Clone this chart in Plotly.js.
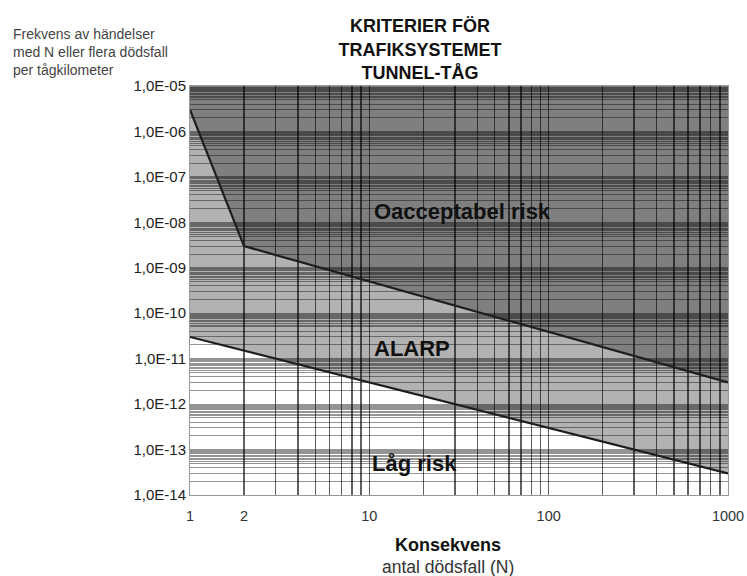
<!DOCTYPE html>
<html>
<head>
<meta charset="utf-8">
<script src="https://cdn.plot.ly/plotly-3.0.1.min.js"></script>
<style>html,body{margin:0;padding:0;background:#fff;}#chart{width:747px;height:576px;}</style>
</head>
<body>
<div id="chart"></div>
<script>
// ---- data ----
const nUpper = [1, 2, 1000];            // N (antal dödsfall)
const upperLimit = [3e-6, 3e-9, 3e-12]; // boundary Oacceptabel / ALARP
const nLower = [1, 1000];
const lowerLimit = [3e-11, 3e-14];      // boundary ALARP / Låg risk
const nTop = [1, 1000];
const topEdge = [1e-5, 1e-5];           // top of chart (fill limit)

const xTickVals = [1, 2, 10, 100, 1000];
const xTickText = ['1', '2', '10', '100', '1000'];
const yTickVals = [1e-5, 1e-6, 1e-7, 1e-8, 1e-9, 1e-10, 1e-11, 1e-12, 1e-13, 1e-14];
const yTickText = ['1,0E-05', '1,0E-06', '1,0E-07', '1,0E-08', '1,0E-09',
                   '1,0E-10', '1,0E-11', '1,0E-12', '1,0E-13', '1,0E-14'];
const xMinorMantissas = [3, 4, 5, 6, 7, 8, 9];
const yMinorMantissas = [2, 3, 4, 5, 5.5, 6, 6.5, 7, 7.5, 8, 8.5, 9, 9.5];
const regionLabels = ['Oacceptabel risk', 'ALARP', 'Låg risk'];

// minor grid positions
const xMinor = [20, 200];
[1, 10, 100].forEach(d => xMinorMantissas.forEach(m => xMinor.push(m * d)));
const yMinor = [];
for (let e = -14; e < -5; e++) yMinorMantissas.forEach(m => yMinor.push(m * Math.pow(10, e)));

const traces = [
  {x: nLower, y: lowerLimit, mode: 'lines', line: {color: '#1e1e1e', width: 2.2},
   hoverinfo: 'skip', showlegend: false},
  {x: nUpper, y: upperLimit, mode: 'lines', line: {color: '#1e1e1e', width: 2.2},
   fill: 'tonexty', fillcolor: 'rgba(0,0,0,0.3)', hoverinfo: 'skip', showlegend: false},
  {x: nTop, y: topEdge, mode: 'lines', line: {color: 'rgba(0,0,0,0)', width: 0},
   fill: 'tonexty', fillcolor: 'rgba(0,0,0,0.5)', hoverinfo: 'skip', showlegend: false}
];

const gridY = 'rgba(0,0,0,0.42)';
const gridX = 'rgba(0,0,0,0.62)';

const layout = {
  width: 747, height: 576,
  margin: {l: 190, r: 19, t: 86, b: 81},
  paper_bgcolor: '#ffffff', plot_bgcolor: '#ffffff',
  font: {family: 'Liberation Sans, Arial, sans-serif', color: '#222'},
  title: {
    text: '<b>KRITERIER FÖR<br>TRAFIKSYSTEMET<br>TUNNEL-TÅG</b>',
    font: {size: 18, color: '#111'},
    xref: 'paper', x: 0.4275, xanchor: 'center',
    yref: 'container', y: 0.944, yanchor: 'top'
  },
  xaxis: {
    type: 'log', range: [0, 3], autorange: false,
    tickmode: 'array', tickvals: xTickVals, ticktext: xTickText,
    ticks: '', ticklabelstandoff: 8, tickfont: {size: 14.5, color: '#333'},
    showgrid: true, gridcolor: gridX, gridwidth: 1.5,
    minor: {tickmode: 'array', tickvals: xMinor, showgrid: true, gridcolor: gridX, gridwidth: 1.5, ticks: ''},
    showline: true, linecolor: '#999', linewidth: 1, mirror: true,
    zeroline: false, fixedrange: true
  },
  yaxis: {
    type: 'log', range: [-14, -5], autorange: false,
    tickmode: 'array', tickvals: yTickVals, ticktext: yTickText,
    ticks: '', tickfont: {size: 15, color: '#222'},
    showgrid: true, gridcolor: gridY, gridwidth: 1,
    minor: {tickmode: 'array', tickvals: yMinor, showgrid: true, gridcolor: gridY, gridwidth: 1, ticks: ''},
    showline: true, linecolor: '#999', linewidth: 1, mirror: true,
    zeroline: false, fixedrange: true
  },
  annotations: [
    {text: 'Frekvens av händelser<br>med N eller flera dödsfall<br>per tågkilometer',
     xref: 'paper', yref: 'paper', x: -0.333, y: 1.152, xanchor: 'left', yanchor: 'top',
     align: 'left', showarrow: false, font: {size: 14, color: '#444'}},
    {text: '<b>' + regionLabels[0] + '</b>', xref: 'paper', yref: 'paper',
     x: 0.338, y: 0.692, xanchor: 'left', yanchor: 'middle', showarrow: false,
     font: {size: 22, color: '#111'}},
    {text: '<b>' + regionLabels[1] + '</b>', xref: 'paper', yref: 'paper',
     x: 0.338, y: 0.359, xanchor: 'left', yanchor: 'middle', showarrow: false,
     font: {size: 22, color: '#111'}},
    {text: '<b>' + regionLabels[2] + '</b>', xref: 'paper', yref: 'paper',
     x: 0.334, y: 0.078, xanchor: 'left', yanchor: 'middle', showarrow: false,
     font: {size: 22, color: '#111'}},
    {text: '<b>Konsekvens</b>', xref: 'paper', yref: 'paper',
     x: 0.48, y: -0.122, xanchor: 'center', yanchor: 'middle', showarrow: false,
     font: {size: 18, color: '#111'}},
    {text: 'antal dödsfall (N)', xref: 'paper', yref: 'paper',
     x: 0.48, y: -0.176, xanchor: 'center', yanchor: 'middle', showarrow: false,
     font: {size: 17.5, color: '#333'}}
  ]
};

Plotly.newPlot('chart', traces, layout, {staticPlot: true, displayModeBar: false});
</script>
</body>
</html>
